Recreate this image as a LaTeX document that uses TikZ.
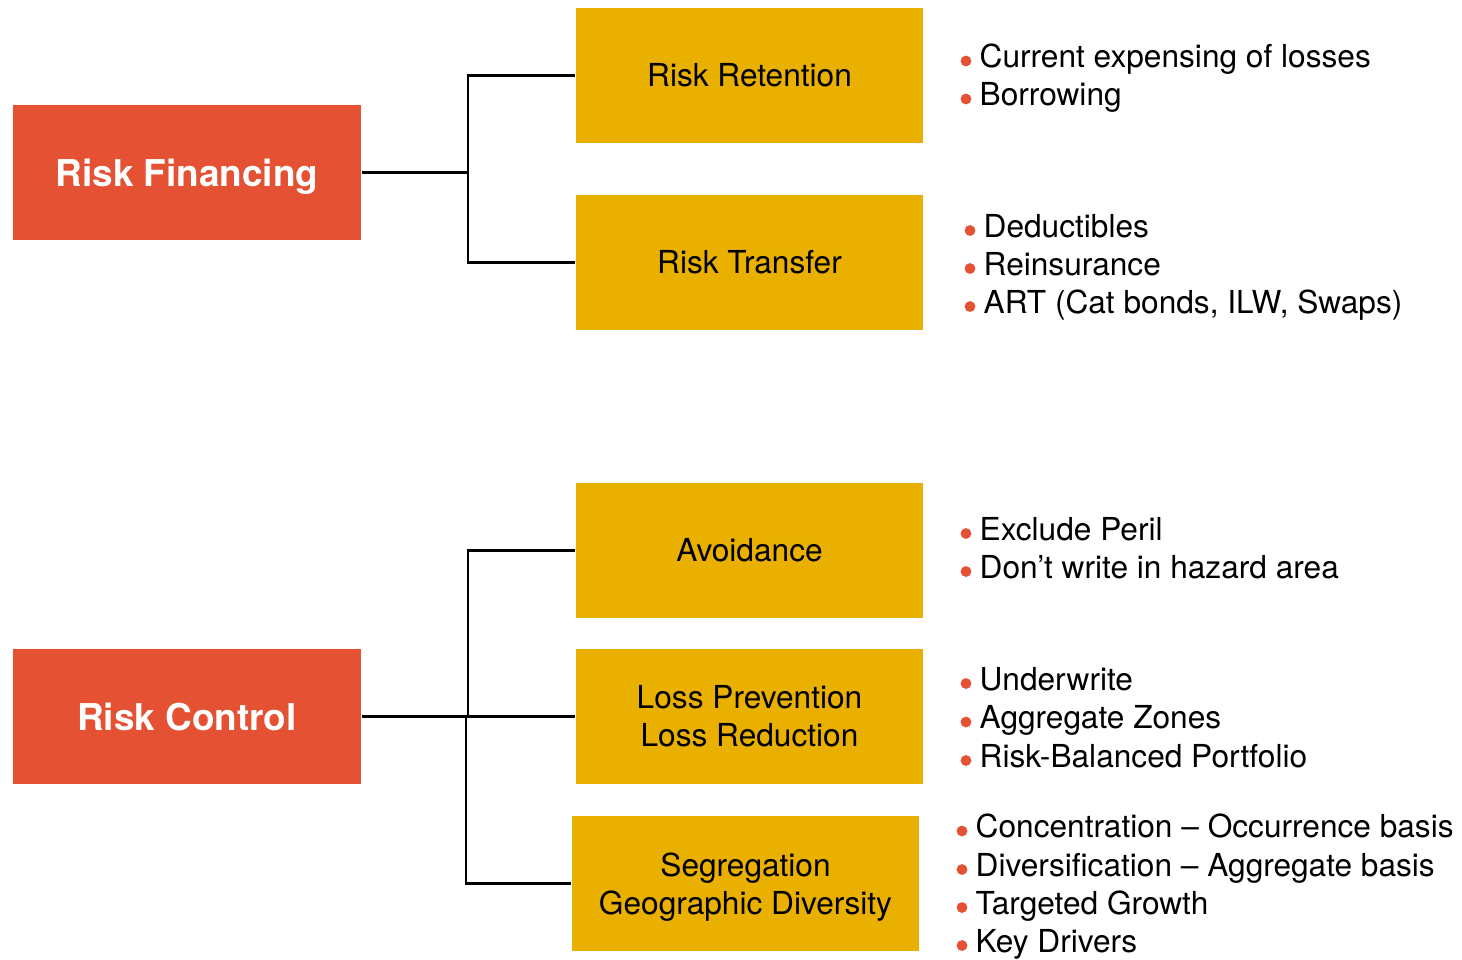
\documentclass[tikz,border=0pt]{standalone}
\usepackage{fontspec}
\setmainfont{TeX Gyre Heros}
\definecolor{rfred}{HTML}{E45133}
\definecolor{rfgold}{HTML}{EAB000}
\tikzset{
  headbox/.style={fill=rfred, text=white, font=\fontsize{10.5}{12.6}\selectfont\bfseries,
    minimum width=3.48cm, minimum height=1.35cm, inner sep=0pt},
  subbox/.style={fill=rfgold, text=black, font=\fontsize{9}{10.8}\selectfont, align=center,
    minimum width=3.47cm, minimum height=1.35cm, inner sep=0pt},
  item/.style={anchor=base west, inner sep=0pt, font=\fontsize{9}{10.8}\selectfont},
  dot/.style={fill=rfred},
  link/.style={draw=black, line width=0.6pt},
}
\newcommand{\bulletline}[4]{%
  \node[item] (#1) at (#2,#3) {#4};
  \fill[dot] ([shift={(-13,-6.5)}]#1.base west) circle (5.4);
}
\begin{document}
\begin{tikzpicture}[x=0.01cm, y=-0.01cm]
  \useasboundingbox (0,0) rectangle (1462,959);

  % main categories
  \node[headbox, text depth=0pt] (fin) at (187,172.5) {Risk Financing};
  \node[headbox] (ctl) at (187,716.5) {Risk Control};

  % financing branches
  \node[subbox] (ret) at (749.5,75.5) {Risk Retention};
  \node[subbox] (trf) at (749.5,262.5) {Risk Transfer};

  % control branches
  \node[subbox] (avd) at (749.5,550.5) {Avoidance};
  \node[subbox] (lpr) at (749.5,716.5) {Loss Prevention\\Loss Reduction};
  \node[subbox, text depth=0pt] (seg) at (745.5,883.5) {Segregation\\Geographic Diversity};

  % connectors
  \coordinate (jf) at (468,172.5);
  \coordinate (jc) at (468,716.5);
  \coordinate (jc2) at (466,716.5);
  \draw[link] (fin.east) -- (jf);
  \draw[link] (ret.west) -| (jf);
  \draw[link] (trf.west) -| (jf);
  \draw[link] (ctl.east) -- (lpr.west);
  \draw[link] (avd.west) -| (jc);
  \draw[link] (seg.west) -| (jc2);

  % bullet lists
  \bulletline{r1}{979}{67.5}{Current expensing of losses}
  \bulletline{r2}{979}{105.5}{Borrowing}

  \bulletline{t1}{983}{237}{Deductibles}
  \bulletline{t2}{983}{275}{Reinsurance}
  \bulletline{t3}{983}{313}{ART (Cat bonds, ILW, Swaps)}

  \bulletline{a1}{979}{540}{Exclude Peril}
  \bulletline{a2}{979}{578}{Don’t write in hazard area}

  \bulletline{l1}{979}{690}{Underwrite}
  \bulletline{l2}{979}{728.5}{Aggregate Zones}
  \bulletline{l3}{979}{767}{Risk-Balanced Portfolio}

  \bulletline{s1}{975}{837.5}{Concentration – Occurrence basis}
  \bulletline{s2}{975}{876}{Diversification – Aggregate basis}
  \bulletline{s3}{975}{914}{Targeted Growth}
  \bulletline{s4}{975}{952}{Key Drivers}
\end{tikzpicture}
\end{document}
